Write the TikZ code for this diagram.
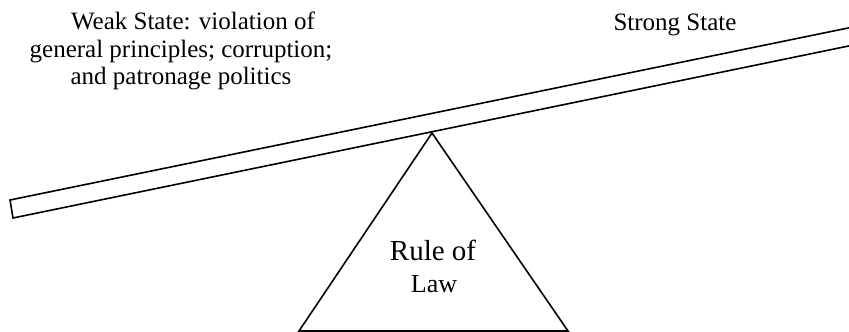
\documentclass[tikz,border=0pt]{standalone}
\usepackage{fontspec}
\setmainfont{Liberation Serif}
\begin{document}
\begin{tikzpicture}[x=1pt,y=-1pt,
  edge/.style={line width=1.6pt,line join=miter},
  lbl/.style={inner sep=0pt,align=center,font=\fontsize{25}{27.5}\selectfont}]
\useasboundingbox (0,0) rectangle (849,332);
\begin{scope}
\clip (0,0) rectangle (849,332);
% plank
\draw[edge] (870,23.5) -- (10,200) -- (13,218) -- (870,41.6);
% fulcrum
\draw[edge] (432,133) -- (299,331) -- (568,331) -- cycle;
\end{scope}
\node[lbl] (weak) at (181,51) {\hspace*{24pt}Weak State: violation of\\general principles; corruption;\\and patronage politics};
\node[lbl,anchor=base] (strong) at (675,30) {Strong State};
\node[lbl,anchor=base,font=\fontsize{29}{32}\selectfont] (rule) at (433,260) {Rule of};
\node[lbl,anchor=base,font=\fontsize{26}{30}\selectfont] (law) at (434,292) {Law};
\end{tikzpicture}
\end{document}
